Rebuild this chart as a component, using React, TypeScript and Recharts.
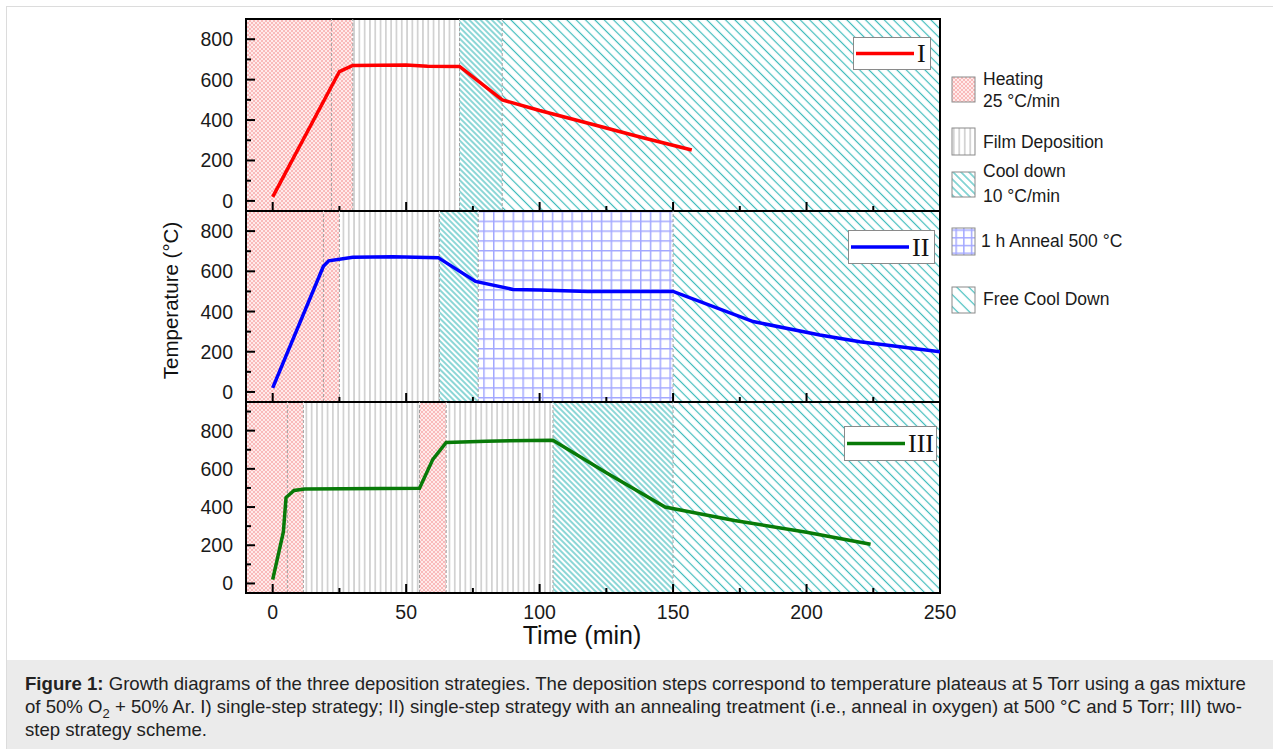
import React from 'react';
import { LineChart, Line, XAxis, YAxis, ReferenceArea, ReferenceLine, Legend, Label } from 'recharts';

// ---------- Data ----------
const timeI = [0, 25, 27, 30, 50, 58, 70, 86, 100, 120, 138, 157];
const tempI = [20, 640, 652, 670, 672, 666, 665, 500, 447, 378, 315, 252];

const timeII = [0, 19, 21, 30, 45, 62, 76, 90, 100, 118, 150, 180, 205, 220, 250];
const tempII = [20, 625, 652, 670, 672, 668, 550, 510, 507, 500, 500, 350, 283, 250, 200];

const timeIII = [0, 4, 5, 8, 12, 55, 60, 65, 80, 105, 125, 147, 173, 200, 224];
const tempIII = [20, 270, 450, 487, 495, 498, 650, 738, 745, 750, 580, 400, 330, 268, 205];

// process phases: [start, end, kind]
const phasesI: [number, number, string][] = [[-10, 30, 'heat'], [30, 70, 'film'], [70, 86, 'cool'], [86, 250, 'free']];
const phasesII: [number, number, string][] = [[-10, 25, 'heat'], [25, 62.5, 'film'], [62.5, 77, 'cool'], [77, 150, 'anneal'], [150, 250, 'free']];
const phasesIII: [number, number, string][] = [[-10, 11.5, 'heat'], [11.5, 55, 'film'], [55, 65, 'heat'], [65, 105, 'film'], [105, 150, 'cool'], [150, 250, 'free']];

const markersI = [22, 30, 70, 86];
const markersII = [19, 25, 62.5, 77, 150];
const markersIII = [5.5, 11.5, 55, 65, 105, 150];

const xTicks = [0, 25, 50, 75, 100, 125, 150, 175, 200, 225, 250];
const yTicks = [0, 100, 200, 300, 400, 500, 600, 700, 800, 900];

const legendItems = [
  { kind: 'heat', lines: ['Heating', '25 °C/min'] },
  { kind: 'film', lines: ['Film Deposition'] },
  { kind: 'cool', lines: ['Cool down', '10 °C/min'] },
  { kind: 'anneal', lines: ['1 h Anneal 500 °C'] },
  { kind: 'free', lines: ['Free Cool Down'] },
];

const toData = (t: number[], v: number[]) => t.map((x, i) => ({ t: x, v: v[i] }));

const SANS = '"Liberation Sans", Arial, Helvetica, sans-serif';
const SERIF = '"Liberation Serif", "Times New Roman", serif';
const TEAL = '#3fbcbc';

function Patterns({ p, icon }: { p: string; icon?: boolean }) {
  const filmW = icon ? 5.5 : 5.3;
  const coolS = icon ? 5.6 : 4;
  const freeS = icon ? 8.5 : 6.6;
  const gridS = icon ? 7.7 : 9.8;
  return (
    <defs>
      <pattern id={`${p}-heat`} width={4} height={4} patternUnits="userSpaceOnUse">
        <rect width={4} height={4} fill="#ffeaea" />
        <path d="M0,0L4,4M4,0L0,4" stroke="#f8b4b4" strokeWidth={0.9} />
      </pattern>
      <pattern id={`${p}-film`} width={filmW} height={4} patternUnits="userSpaceOnUse">
        <rect width={filmW} height={4} fill="#ffffff" />
        <line x1={filmW / 2} x2={filmW / 2} y1={0} y2={4} stroke="#bdbdbd" strokeWidth={1.2} />
      </pattern>
      <pattern id={`${p}-cool`} width={coolS} height={coolS} patternUnits="userSpaceOnUse" patternTransform="rotate(45)">
        <rect width={coolS} height={coolS} fill="#ffffff" />
        <line x1={0} x2={coolS} y1={coolS / 2} y2={coolS / 2} stroke={TEAL} strokeWidth={1.2} />
      </pattern>
      <pattern id={`${p}-free`} width={freeS} height={freeS} patternUnits="userSpaceOnUse" patternTransform="rotate(45)">
        <rect width={freeS} height={freeS} fill="#ffffff" />
        <line x1={0} x2={freeS} y1={freeS / 2} y2={freeS / 2} stroke={TEAL} strokeWidth={1.2} />
      </pattern>
      <pattern id={`${p}-anneal`} width={gridS} height={gridS} patternUnits="userSpaceOnUse">
        <rect width={gridS} height={gridS} fill="#ffffff" />
        <path d={`M0,0.75H${gridS}M0.75,0V${gridS}`} stroke="#a3a8ff" strokeWidth={1.5} />
      </pattern>
    </defs>
  );
}

function XTick(props: any) {
  const { x, y, payload, showLabel } = props;
  const v = payload.value;
  const major = v % 50 === 0;
  return (
    <g>
      <line x1={x} x2={x} y1={y} y2={y - (major ? 9 : 5)} stroke="#000" strokeWidth={2} />
      {showLabel && major && (
        <text x={x} y={y + 26} textAnchor="middle" fontSize={19.5} fontFamily={SANS} fill="#1a1a1a">
          {v}
        </text>
      )}
    </g>
  );
}

function YTick(props: any) {
  const { x, y, payload } = props;
  const v = payload.value;
  const major = v % 200 === 0 && v <= 800;
  return (
    <g>
      <line x1={x} x2={x + (major ? 9 : 5)} y1={y} y2={y} stroke="#000" strokeWidth={2} />
      {major && (
        <text x={x - 13} y={y} dy="0.36em" textAnchor="end" fontSize={19.5} fontFamily={SANS} fill="#1a1a1a">
          {v}
        </text>
      )}
    </g>
  );
}

function PanelLegend({ payload, w, h }: any) {
  const item = payload && payload[0];
  if (!item) return null;
  return (
    <svg width={w} height={h} style={{ display: 'block' }}>
      <rect x={0.5} y={0.5} width={w - 1} height={h - 1} fill="#fff" stroke="#8a8a8a" strokeWidth={1} />
      <line x1={3} x2={61} y1={h / 2} y2={h / 2} stroke={item.color} strokeWidth={3.5} />
      <text x={64} y={h / 2 + 8.5} fontSize={26} fontFamily={SERIF} fill="#111">
        {item.value}
      </text>
    </svg>
  );
}

type PanelProps = {
  id: string;
  name: string;
  color: string;
  data: { t: number; v: number }[];
  phases: [number, number, string][];
  markers: number[];
  yMax: number;
  top: number;
  plotH: number;
  showX: boolean;
  legend: { left: number; top: number; w: number; h: number };
  yTitle?: boolean;
};

function Panel({ id, name, color, data, phases, markers, yMax, top, plotH, showX, legend, yTitle }: PanelProps) {
  const xh = showX ? 60 : 10;
  const height = 10 + plotH + xh;
  return (
    <div style={{ position: 'absolute', left: 150, top }}>
      <LineChart width={830} height={height} data={data} margin={{ top: 10, right: 40, bottom: 0, left: 0 }}>
        <Patterns p={id} />
        {phases.map((ph, i) => (
          <ReferenceArea key={`a${i}`} x1={ph[0]} x2={ph[1]} fill={`url(#${id}-${ph[2]})`} fillOpacity={1} stroke="none" ifOverflow="visible" />
        ))}
        {markers.map((m, i) => (
          <ReferenceLine key={`m${i}`} x={m} stroke="#a0a0a0" strokeWidth={1} strokeDasharray="3 2" />
        ))}
        <XAxis
          dataKey="t"
          type="number"
          domain={[-10, 250]}
          allowDataOverflow
          ticks={xTicks}
          interval={0}
          tickSize={0}
          tickMargin={0}
          tickLine={false}
          height={xh}
          axisLine={{ stroke: '#000', strokeWidth: 2 }}
          tick={(p: any) => <XTick {...p} showLabel={showX} />}
        >
          {showX && (
            <Label
              content={(lp: any) => {
                const vb = lp.viewBox || {};
                return (
                  <text x={vb.x + vb.width / 2 - 11} y={vb.y + 51} textAnchor="middle" fontSize={25} fontFamily={SANS} fill="#111">
                    Time (min)
                  </text>
                );
              }}
            />
          )}
        </XAxis>
        <YAxis
          type="number"
          domain={[-50, yMax]}
          allowDataOverflow
          ticks={yTicks}
          interval={0}
          tickSize={0}
          tickMargin={0}
          tickLine={false}
          width={96}
          axisLine={{ stroke: '#000', strokeWidth: 2 }}
          tick={(p: any) => <YTick {...p} />}
        >
          {yTitle && (
            <Label
              content={(lp: any) => {
                const vb = lp.viewBox || {};
                const cx = vb.x + 28;
                const cy = vb.y + vb.height / 2 - 6;
                return (
                  <text x={cx} y={cy} transform={`rotate(-90 ${cx} ${cy})`} textAnchor="middle" fontSize={20.5} fontFamily={SANS} fill="#111">
                    Temperature (°C)
                  </text>
                );
              }}
            />
          )}
        </YAxis>
        <ReferenceArea x1={-10} x2={250} fill="none" stroke="#000" strokeWidth={2} ifOverflow="visible" />
        <Line type="linear" dataKey="v" name={name} stroke={color} strokeWidth={3.5} dot={false} activeDot={false} isAnimationActive={false} />
        <Legend
          layout="horizontal"
          verticalAlign="middle"
          align="center"
          wrapperStyle={{ left: legend.left, top: legend.top, width: legend.w, height: legend.h }}
          content={(lp: any) => <PanelLegend payload={lp.payload} w={legend.w} h={legend.h} />}
        />
      </LineChart>
    </div>
  );
}

function SideLegend() {
  const rows = [17, 68, 112, 168, 227];
  const iconH = [25, 27, 25, 27, 26];
  const textY = [[25, 47], [88], [117, 142], [187], [245]];
  return (
    <svg width={220} height={270} style={{ position: 'absolute', left: 940, top: 60 }}>
      <Patterns p="lg" icon />
      {legendItems.map((it, i) => (
        <g key={it.kind}>
          <rect x={12} y={rows[i]} width={23} height={iconH[i]} fill={`url(#lg-${it.kind})`} stroke="#8a8a8a" strokeWidth={1} />
          {it.lines.map((ln, j) => (
            <text key={j} x={it.kind === 'anneal' ? 41 : 43} y={textY[i][j]} fontSize={17.5} fontFamily={SANS} fill="#1a1a1a">
              {ln}
            </text>
          ))}
        </g>
      ))}
    </svg>
  );
}

export default function App() {
  return (
    <div style={{ position: 'absolute', left: 0, top: 0, width: 1273, height: 749, overflow: 'hidden', background: '#fff' }}>
      <div style={{ position: 'absolute', left: 6, top: 6, width: 1267, height: 743, borderTop: '1px solid #dcdcdc', borderLeft: '1px solid #dcdcdc', boxSizing: 'border-box' }} />
      <Panel id="p1" name="I" color="#ff0000" data={toData(timeI, tempI)} phases={phasesI} markers={markersI} yMax={900} top={9} plotH={192} showX={false} legend={{ left: 703, top: 28, w: 78, h: 33 }} />
      <Panel id="p2" name="II" color="#0000ff" data={toData(timeII, tempII)} phases={phasesII} markers={markersII} yMax={900} top={201} plotH={191} showX={false} legend={{ left: 698, top: 29, w: 87, h: 34 }} yTitle />
      <Panel id="p3" name="III" color="#087a08" data={toData(timeIII, tempIII)} phases={phasesIII} markers={markersIII} yMax={950} top={392} plotH={191} showX legend={{ left: 694, top: 34, w: 93, h: 35 }} />
      <SideLegend />
      <div
        style={{
          position: 'absolute',
          left: 7,
          top: 660,
          width: 1266,
          height: 89,
          background: '#ebebeb',
          boxSizing: 'border-box',
          padding: '12px 0 0 18px',
          fontFamily: SANS,
          fontSize: 18.6,
          lineHeight: '23px',
          color: '#222',
          whiteSpace: 'nowrap',
        }}
      >
        <div>
          <b>Figure 1:</b> Growth diagrams of the three deposition strategies. The deposition steps correspond to temperature plateaus at 5 Torr using a gas mixture
        </div>
        <div>
          of 50% O<sub style={{ fontSize: 13, lineHeight: 0 }}>2</sub> + 50% Ar. I) single-step strategy; II) single-step strategy with an annealing treatment (i.e., anneal in oxygen) at 500 °C and 5 Torr; III) two-
        </div>
        <div>step strategy scheme.</div>
      </div>
    </div>
  );
}
